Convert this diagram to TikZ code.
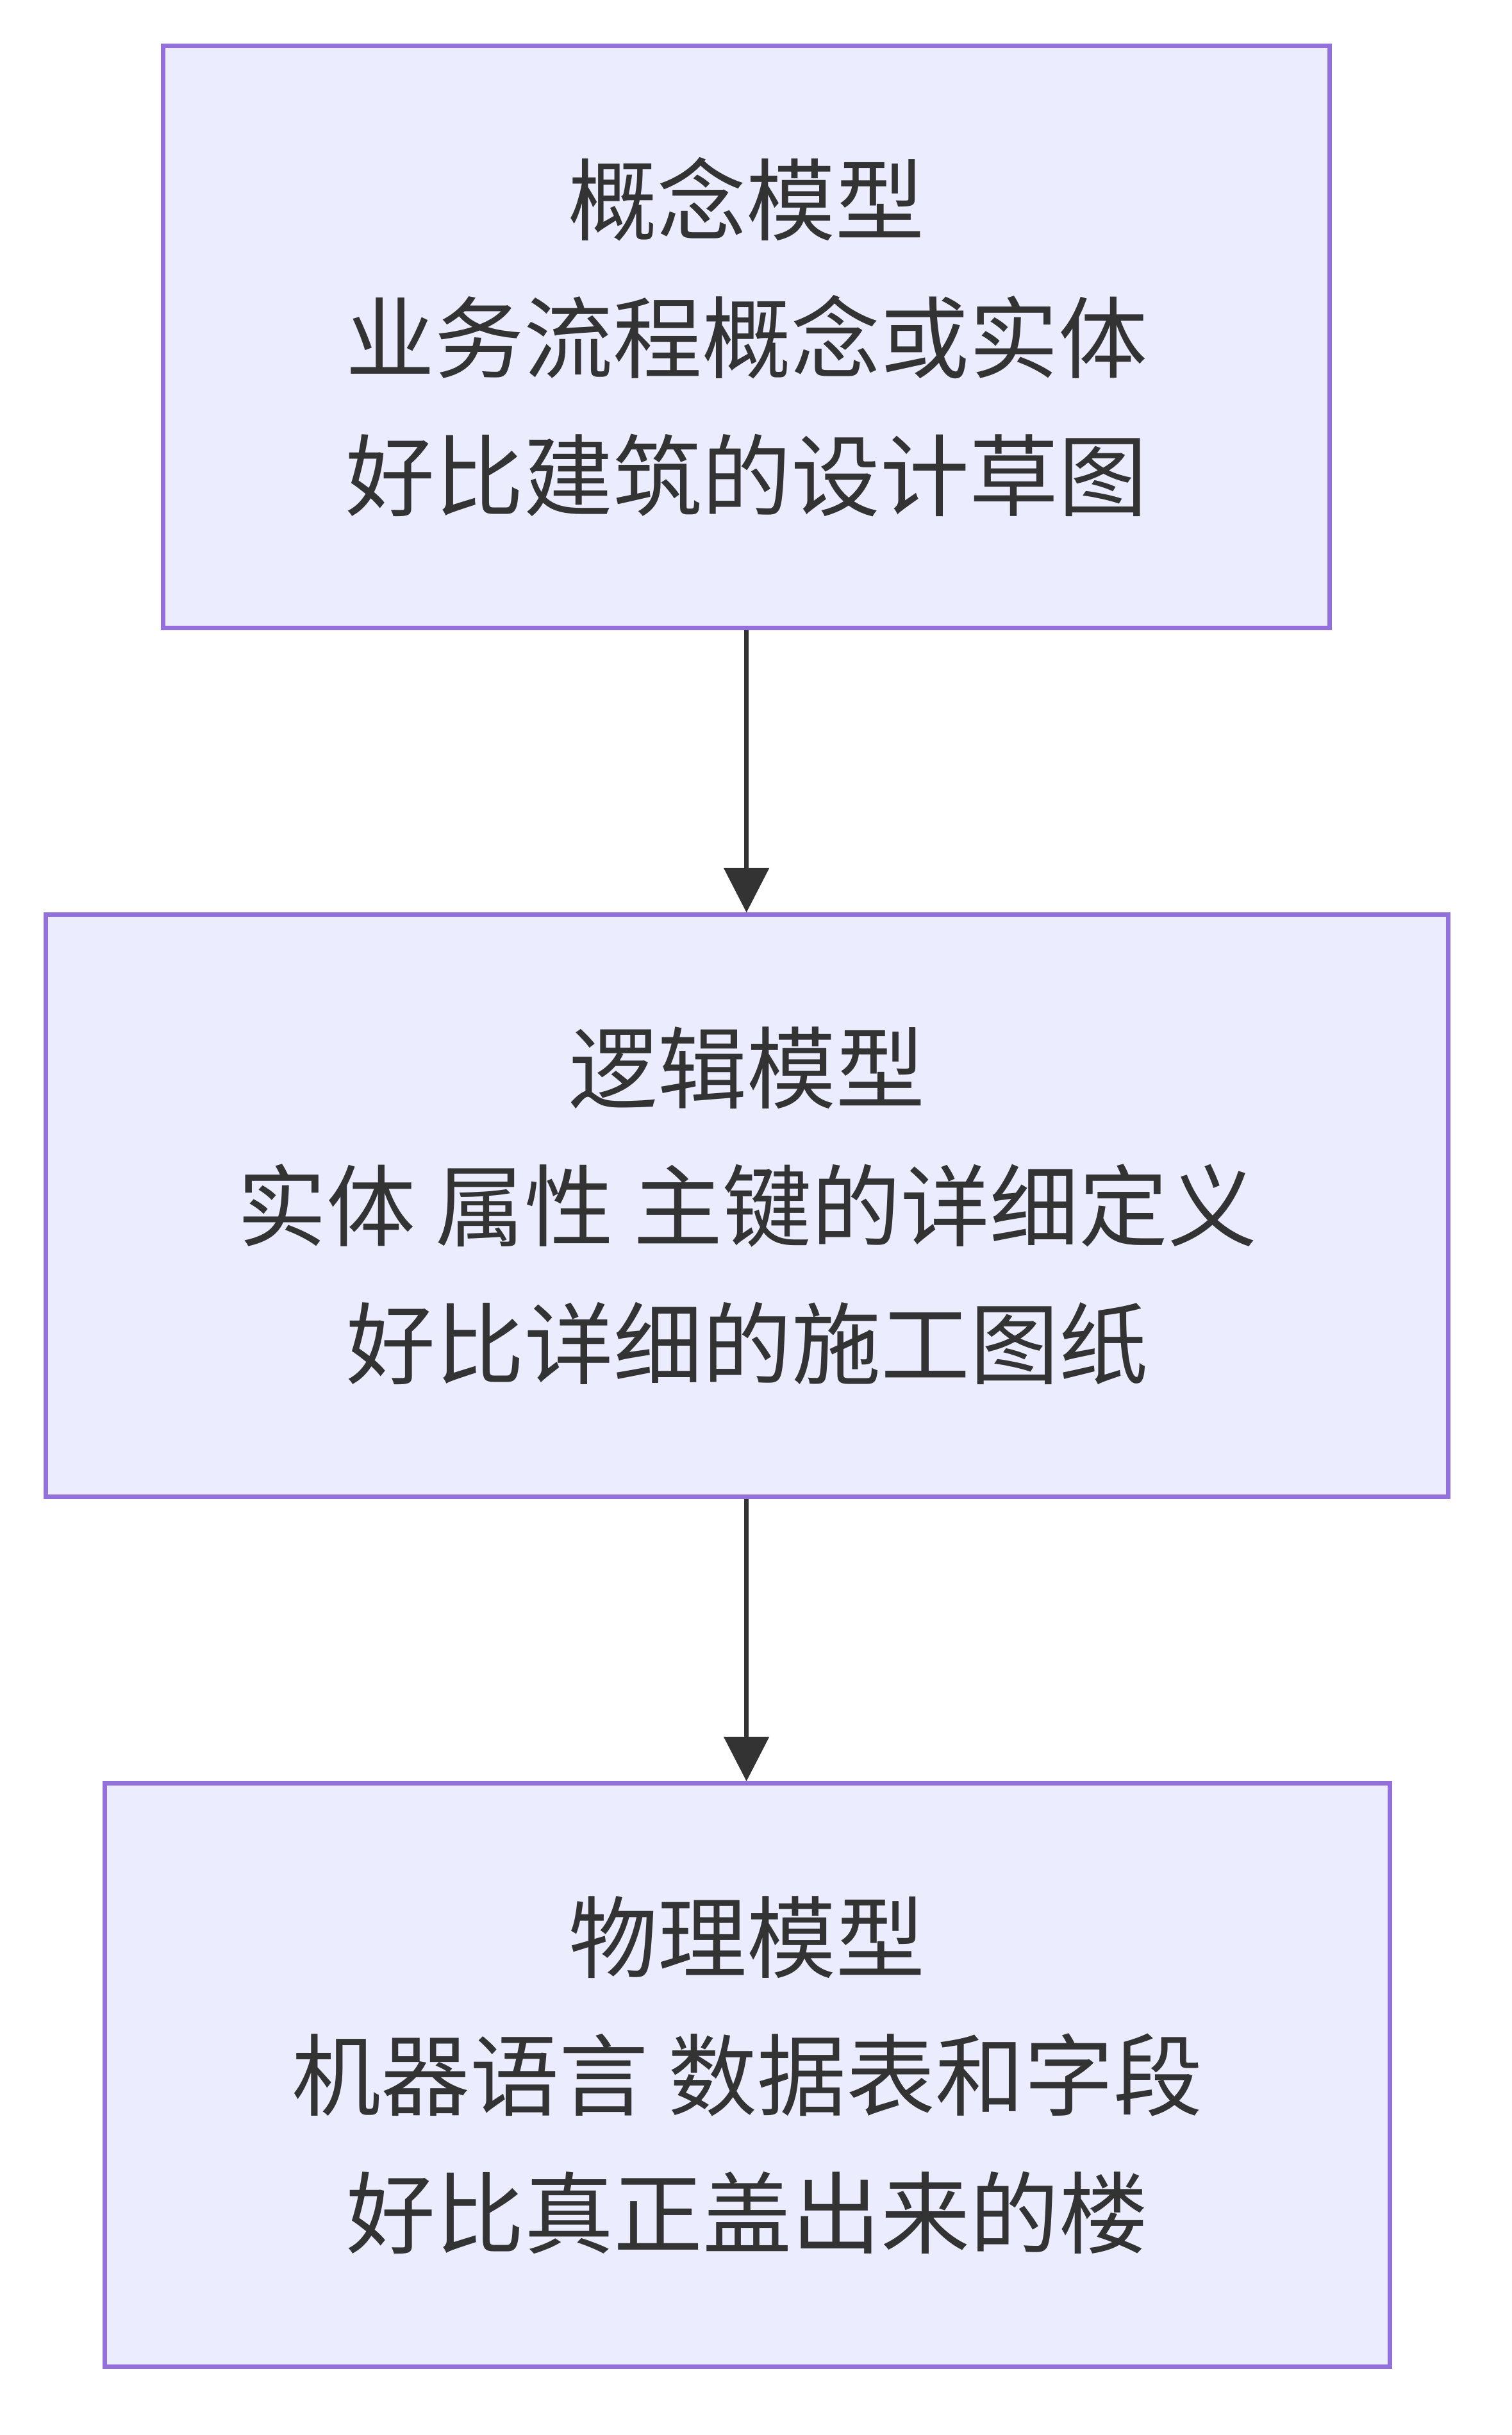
\documentclass[tikz,border=0pt]{standalone}
\usepackage{fontspec}
\setmainfont{Noto Sans CJK SC}
\usetikzlibrary{positioning,arrows.meta}
\definecolor{boxfill}{HTML}{ECECFF}
\definecolor{boxline}{HTML}{9370DB}
\definecolor{ink}{HTML}{333333}
\tikzset{
  model/.style={draw=boxline, fill=boxfill, line width=1.6pt, text=ink,
    align=center, inner sep=0pt,
    font=\fontsize{32}{49.5}\selectfont},
  flow/.style={draw=ink, line width=1.6pt, -{Triangle[length=16pt,width=16pt]}}
}
\begin{document}
\begin{tikzpicture}[x=0.02cm, y=-0.02cm]
    % 画布
    \useasboundingbox (0,0) rectangle (954,1536);
    % 三个模型框
    \node[model, minimum width=14.72cm, minimum height=7.34cm] (concept) at (471,212.5)
        {概念模型\\业务流程概念或实体\\好比建筑的设计草图};
    \node[model, minimum width=17.70cm, minimum height=7.34cm] (logic) at (471.5,760.5)
        {逻辑模型\\实体 属性 主键的详细定义\\好比详细的施工图纸};
    \node[model, minimum width=16.22cm, minimum height=7.36cm] (physical) at (471.5,1309)
        {物理模型\\机器语言 数据表和字段\\好比真正盖出来的楼};
    % 连线
    \draw[flow] (concept.south -| 471,0) -- (logic.north -| 471,0);
    \draw[flow] (logic.south -| 471,0) -- (physical.north -| 471,0);
\end{tikzpicture}
\end{document}
